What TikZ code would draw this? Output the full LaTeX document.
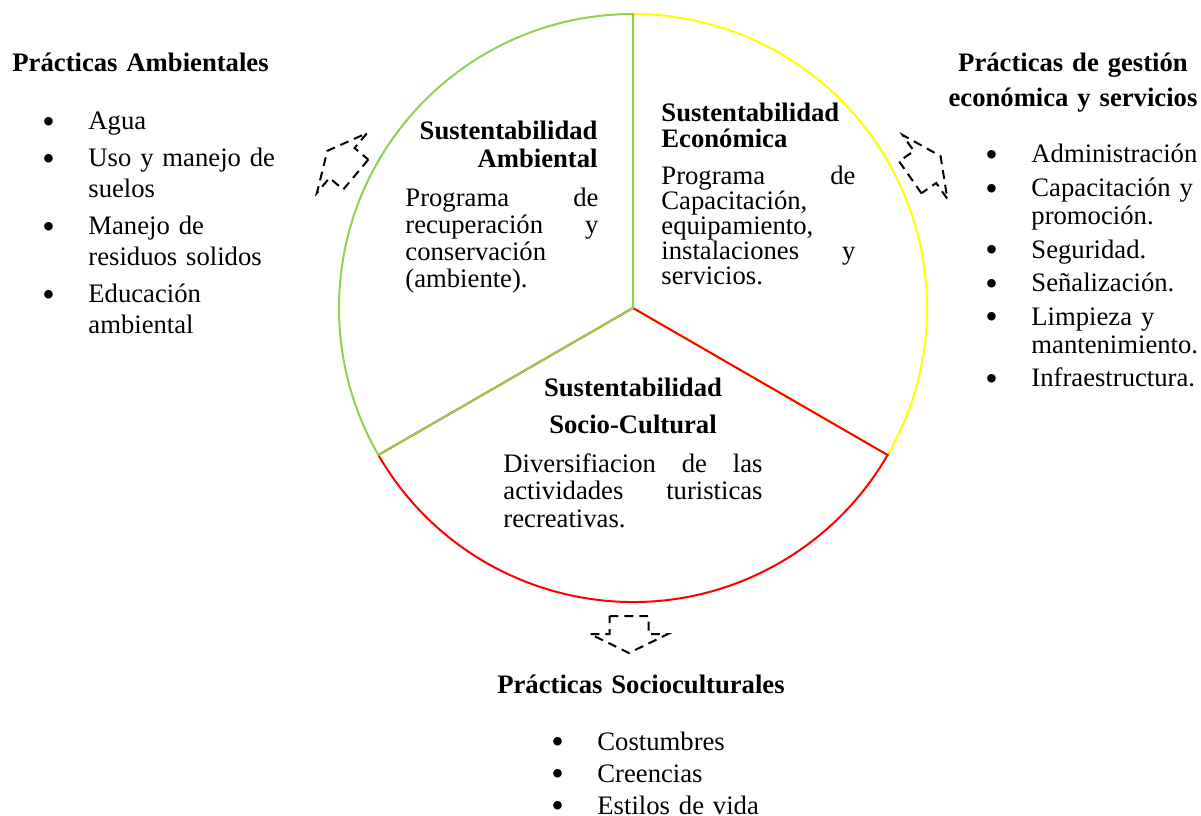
\documentclass[tikz,border=0pt]{standalone}
\usepackage{fontspec}
\setmainfont{Liberation Serif}
\usetikzlibrary{calc}
\definecolor{susgreen}{HTML}{92D050}
\definecolor{susyellow}{HTML}{FFFF00}
\definecolor{susred}{HTML}{FF0000}
\newcommand{\bul}{\makebox[20.7pt][l]{\raisebox{-1.6pt}{\fontsize{16}{0}\selectfont\textbullet}}}
\newcommand{\ind}{\hspace*{20.7pt}}
\tikzset{
  sector/.style={line width=0.9pt},
  heading/.style={inner sep=0pt, text width=110pt, font=\bfseries\fontsize{12}{#1}\selectfont},
  bodytext/.style={inner sep=0pt, anchor=base west, align=left, font=\fontsize{12}{#1}\selectfont},
  plist/.style={inner sep=0pt, anchor=base west, align=left, text width=110pt, font=\fontsize{12}{#1}\selectfont},
  dasharrow/.style={line width=0.9pt, dash pattern=on 4pt off 2.7pt},
  outarrow/.pic={\draw[dasharrow] (-18,-19.5) -- (-18,19.5) -- (0,19.5) -- (0,39) -- (19,0) -- (0,-39) -- (0,-19.5) -- cycle;},
}
\begin{document}
\begin{tikzpicture}[x=0.45pt, y=0.45pt]
  \useasboundingbox (0,0) rectangle (1201,815);
  \coordinate (c) at (633,507);
  % three sectors of the circle
  \draw[sector, susyellow] (c) -- ++(-30:294) arc[start angle=-30, end angle=90, radius=294] -- cycle;
  \draw[sector, susred] (c) -- ++(210:294) arc[start angle=210, end angle=330, radius=294] -- cycle;
  \draw[sector, susgreen] (c) -- ++(90:294) arc[start angle=90, end angle=210, radius=294] -- cycle;
  % texts inside the circle
  \node[heading=12.6pt, anchor=base east, align=right] (ambT) at (598,675) {Sustentabilidad\\Ambiental};
  \node[bodytext=12.15pt, text width=86.9pt] (ambB) at (405,608) {Programa\hfill de\\recuperación\hfill y\\conservación\\(ambiente).};
  \node[heading=11.7pt, anchor=base west, align=left] (ecoT) at (661,693) {Sustentabilidad\\Económica};
  \node[bodytext=11.25pt, text width=87.3pt] (ecoB) at (661,630) {Programa\hfill de\\Capacitación,\\equipamiento,\\instalaciones\hfill y\\servicios.};
  \node[heading=16.2pt, anchor=base, align=center] (socT) at (633,418) {Sustentabilidad\\Socio-Cultural};
  \node[bodytext=12.15pt, text width=116.6pt] (socB) at (503,342) {Diversifiacion\hfill de\hfill las\\actividades\hfill turisticas\\recreativas.};
  % practices outside
  \node[heading=14pt, anchor=base west, align=left, text width=200pt] (ambP) at (12,743) {Prácticas Ambientales};
  \node[heading=15.75pt, anchor=base, align=center, text width=200pt] (ecoP) at (1073,743) {Prácticas de gestión\\económica y servicios};
  \node[heading=14pt, anchor=base, align=center, text width=200pt] (socP) at (641,122) {Prácticas Socioculturales};
  \node[plist=13.95pt] (ambL) at (42,685) {\bul Agua\\[2.7pt]\bul Uso y manejo de\\\ind suelos\\[2.7pt]\bul Manejo de\\\ind residuos solidos\\[2.7pt]\bul Educación\\\ind ambiental};
  \node[plist=12.6pt] (ecoL) at (985,652) {\bul Administración\\[2.5pt]\bul Capacitación y\\\ind promoción.\\[2.5pt]\bul Seguridad.\\[2.5pt]\bul Señalización.\\[2.5pt]\bul Limpieza y\\\ind mantenimiento.\\[2.5pt]\bul Infraestructura.};
  \node[plist=14.4pt] (socL) at (551,65) {\bul Costumbres\\\bul Creencias\\\bul Estilos de vida};
  % dashed block arrows
  \pic[rotate=140] (arrAmb) at (342,652) {outarrow};
  \pic[rotate=35] (arrEco) at (925,648) {outarrow};
  \pic[rotate=-90] (arrSoc) at (629,181) {outarrow};
\end{tikzpicture}
\end{document}
